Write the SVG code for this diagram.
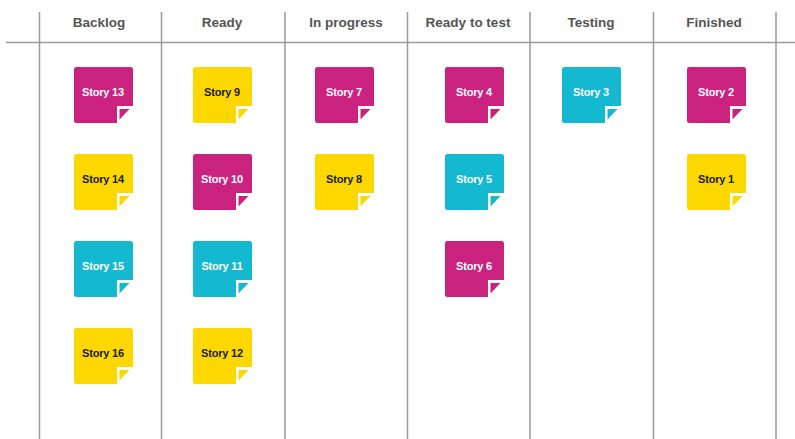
<svg xmlns="http://www.w3.org/2000/svg" xmlns:xlink="http://www.w3.org/1999/xlink" width="795" height="439" viewBox="0 0 795 439">
  <style>
    .rule { stroke: #9a9a9a; stroke-width: 1.5; fill: none; }
    .head { font-family: "Liberation Sans", Arial, sans-serif; font-weight: bold; font-size: 13.5px; fill: #555555; text-anchor: middle; }
    .label { font-family: "Liberation Sans", Arial, sans-serif; font-weight: bold; font-size: 11px; text-anchor: middle; letter-spacing: -0.2px; }
    .mag { fill: #c9237f; }
    .yel { fill: #fdd800; }
    .cya { fill: #14b9d1; }
    .light { fill: #ffffff; }
    .dark { fill: #1a1a1a; }
  </style>
  <defs>
    <!-- sticky note: square with a folded bottom-right corner -->
    <path id="note-body" d="M2.5,0 H56.5 A2.5,2.5 0 0 1 59,2.5 V39 H43 V56 H2.5 A2.5,2.5 0 0 1 0,53.5 V2.5 A2.5,2.5 0 0 1 2.5,0 Z"/>
    <path id="note-flap" d="M45.5,42 H55.5 L45.5,52.5 Z"/>
  </defs>

  <rect width="795" height="439" fill="#ffffff"/>

  <!-- board grid -->
  <g id="grid">
    <line class="rule" x1="6" y1="42.5" x2="795" y2="42.5"/>
    <line class="rule" x1="39.5" y1="12" x2="39.5" y2="439"/>
    <line class="rule" x1="161.5" y1="12" x2="161.5" y2="439"/>
    <line class="rule" x1="285" y1="12" x2="285" y2="439"/>
    <line class="rule" x1="407.5" y1="12" x2="407.5" y2="439"/>
    <line class="rule" x1="530" y1="12" x2="530" y2="439"/>
    <line class="rule" x1="653.5" y1="12" x2="653.5" y2="439"/>
    <line class="rule" x1="776" y1="12" x2="776" y2="439"/>
  </g>

  <!-- column headings -->
  <g id="headings">
    <text class="head" x="99" y="27">Backlog</text>
    <text class="head" x="222" y="27">Ready</text>
    <text class="head" x="346" y="27">In progress</text>
    <text class="head" x="468" y="27">Ready to test</text>
    <text class="head" x="591" y="27">Testing</text>
    <text class="head" x="714" y="27">Finished</text>
  </g>

  <!-- Backlog -->
  <g id="story-13" transform="translate(74,67)"><use xlink:href="#note-body" class="mag"/><use xlink:href="#note-flap" class="mag"/><text class="label light" x="29" y="29">Story 13</text></g>
  <g id="story-14" transform="translate(74,154)"><use xlink:href="#note-body" class="yel"/><use xlink:href="#note-flap" class="yel"/><text class="label dark" x="29" y="29">Story 14</text></g>
  <g id="story-15" transform="translate(74,241)"><use xlink:href="#note-body" class="cya"/><use xlink:href="#note-flap" class="cya"/><text class="label light" x="29" y="29">Story 15</text></g>
  <g id="story-16" transform="translate(74,328)"><use xlink:href="#note-body" class="yel"/><use xlink:href="#note-flap" class="yel"/><text class="label dark" x="29" y="29">Story 16</text></g>

  <!-- Ready -->
  <g id="story-9" transform="translate(193,67)"><use xlink:href="#note-body" class="yel"/><use xlink:href="#note-flap" class="yel"/><text class="label dark" x="29" y="29">Story 9</text></g>
  <g id="story-10" transform="translate(193,154)"><use xlink:href="#note-body" class="mag"/><use xlink:href="#note-flap" class="mag"/><text class="label light" x="29" y="29">Story 10</text></g>
  <g id="story-11" transform="translate(193,241)"><use xlink:href="#note-body" class="cya"/><use xlink:href="#note-flap" class="cya"/><text class="label light" x="29" y="29">Story 11</text></g>
  <g id="story-12" transform="translate(193,328)"><use xlink:href="#note-body" class="yel"/><use xlink:href="#note-flap" class="yel"/><text class="label dark" x="29" y="29">Story 12</text></g>

  <!-- In progress -->
  <g id="story-7" transform="translate(315,67)"><use xlink:href="#note-body" class="mag"/><use xlink:href="#note-flap" class="mag"/><text class="label light" x="29" y="29">Story 7</text></g>
  <g id="story-8" transform="translate(315,154)"><use xlink:href="#note-body" class="yel"/><use xlink:href="#note-flap" class="yel"/><text class="label dark" x="29" y="29">Story 8</text></g>

  <!-- Ready to test -->
  <g id="story-4" transform="translate(445,67)"><use xlink:href="#note-body" class="mag"/><use xlink:href="#note-flap" class="mag"/><text class="label light" x="29" y="29">Story 4</text></g>
  <g id="story-5" transform="translate(445,154)"><use xlink:href="#note-body" class="cya"/><use xlink:href="#note-flap" class="cya"/><text class="label light" x="29" y="29">Story 5</text></g>
  <g id="story-6" transform="translate(445,241)"><use xlink:href="#note-body" class="mag"/><use xlink:href="#note-flap" class="mag"/><text class="label light" x="29" y="29">Story 6</text></g>

  <!-- Testing -->
  <g id="story-3" transform="translate(562,67)"><use xlink:href="#note-body" class="cya"/><use xlink:href="#note-flap" class="cya"/><text class="label light" x="29" y="29">Story 3</text></g>

  <!-- Finished -->
  <g id="story-2" transform="translate(687,67)"><use xlink:href="#note-body" class="mag"/><use xlink:href="#note-flap" class="mag"/><text class="label light" x="29" y="29">Story 2</text></g>
  <g id="story-1" transform="translate(687,154)"><use xlink:href="#note-body" class="yel"/><use xlink:href="#note-flap" class="yel"/><text class="label dark" x="29" y="29">Story 1</text></g>
</svg>
